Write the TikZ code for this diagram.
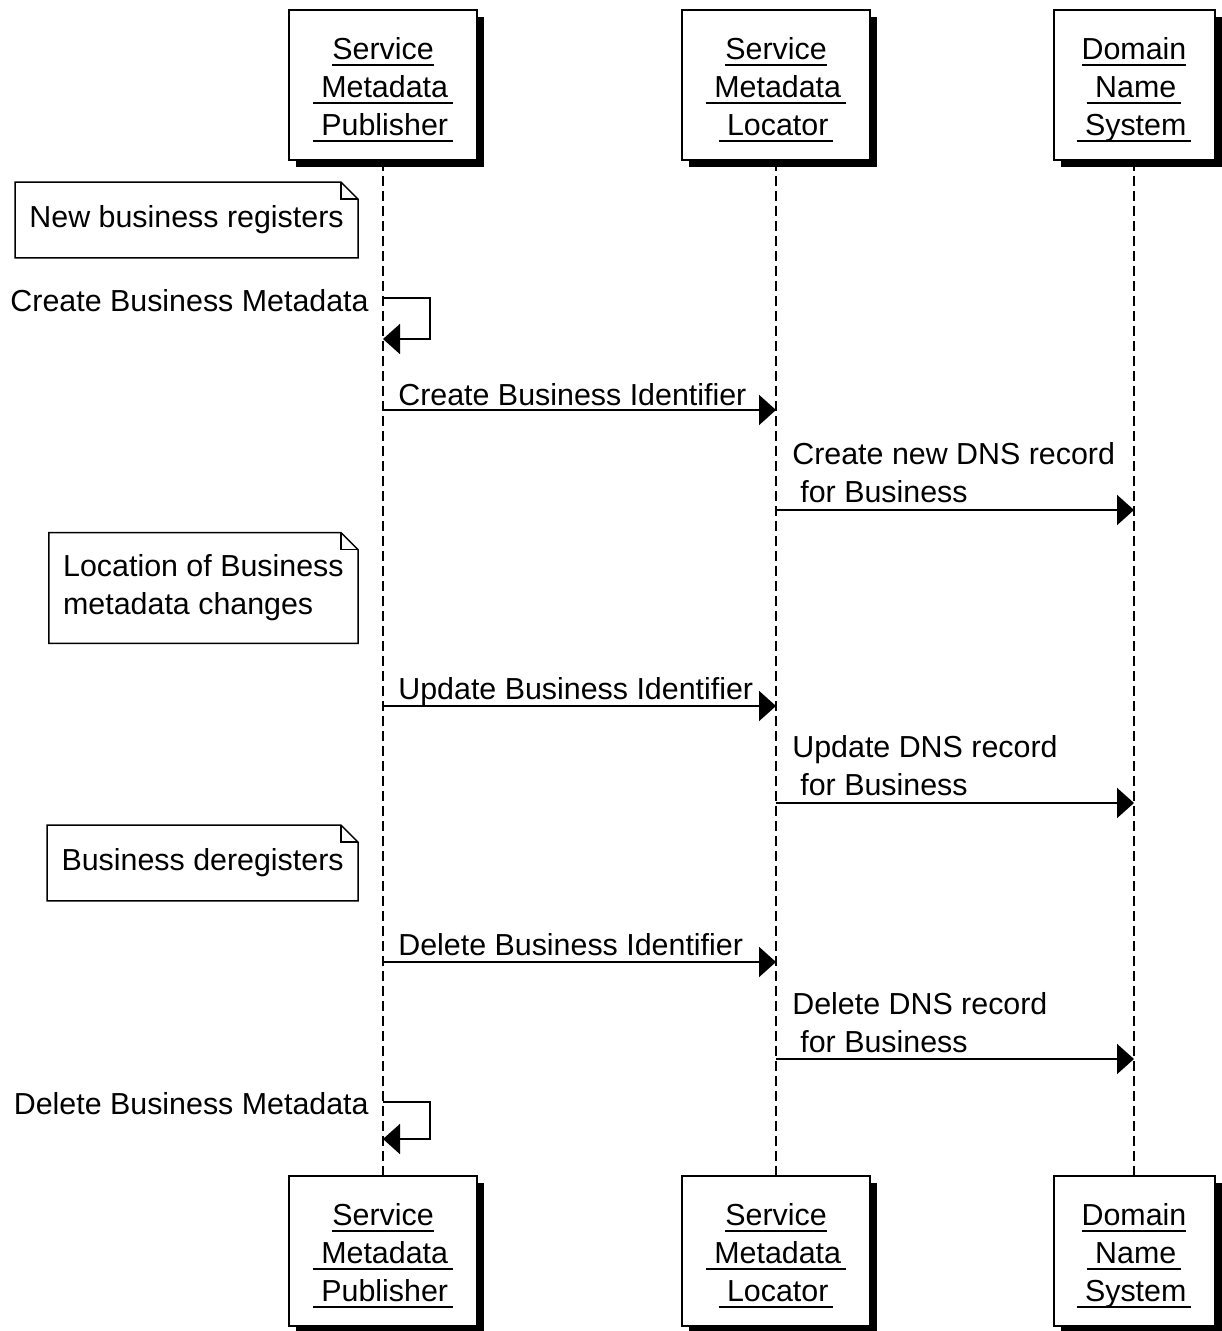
\documentclass[tikz,border=0pt]{standalone}
\usepackage{fontspec}
\setmainfont{Liberation Sans}
\usetikzlibrary{arrows.meta,shadows}

\newsavebox{\ulbox}
\newcommand{\ul}[1]{\sbox{\ulbox}{#1}\rlap{\rule[-4pt]{\wd\ulbox}{1.1pt}}\usebox{\ulbox}}
\newcommand{\notebox}[1]{%
  \draw[line width=0.03cm] (#1.south west) -- (#1.north west) -- ([xshift=-0.34cm]#1.north east)
    -- ([yshift=-0.34cm]#1.north east) -- (#1.south east) -- cycle;
  \draw[line width=0.03cm] ([xshift=-0.34cm]#1.north east) |- ([yshift=-0.34cm]#1.north east);}

\tikzset{
  actor/.style={draw, line width=0.04cm, fill=white, align=center, minimum width=3.76cm, minimum height=3cm,
    drop shadow={shadow xshift=0.14cm, shadow yshift=-0.14cm, fill=black, opacity=1}},
  note/.style={align=left, inner xsep=0.28cm, inner ysep=0pt, minimum height=1.5cm, anchor=east},
  life/.style={line width=0.04cm, dash pattern=on 0.2cm off 0.1cm},
  msg/.style={line width=0.04cm, -{Triangle[length=0.34cm,width=0.6cm]}},
  lbl/.style={inner sep=0pt}
}

\begin{document}
\begin{tikzpicture}[x=0.02cm, y=-0.02cm, every node/.style={font=\fontsize{17.3}{21.6}\selectfont}]

\useasboundingbox (0,0) rectangle (1221,1331);

% lifeline heads
\node[actor] (smp) at (383,85) {\rule{0pt}{18pt}\ul{Service}\\\ul{\ Metadata\,}\\\ul{\ Publisher\,}};
\node[actor] (sml) at (776,85) {\rule{0pt}{18pt}\ul{Service}\\\ul{\ Metadata\,}\\\ul{\ Locator\,}};
\node[actor, minimum width=3.22cm] (dns) at (1134,85) {\rule{0pt}{18pt}\ul{Domain}\\\ul{\ Name\,}\\\ul{\ System\,}};

\node[actor] (smpb) at (383,1251) {\rule{0pt}{18pt}\ul{Service}\\\ul{\ Metadata\,}\\\ul{\ Publisher\,}};
\node[actor] (smlb) at (776,1251) {\rule{0pt}{18pt}\ul{Service}\\\ul{\ Metadata\,}\\\ul{\ Locator\,}};
\node[actor, minimum width=3.22cm] (dnsb) at (1134,1251) {\rule{0pt}{18pt}\ul{Domain}\\\ul{\ Name\,}\\\ul{\ System\,}};

\draw[life] (smp.south) -- (smpb.north);
\draw[life] (sml.south) -- (smlb.north);
\draw[life] (dns.south) -- (dnsb.north);

% notes
\node[note] (n1) at (358,220) {New business registers};
\notebox{n1}
\node[note, minimum height=2.2cm] (n2) at (358,588) {Location of Business\\metadata changes};
\notebox{n2}
\node[note] (n3) at (358,863) {Business deregisters};
\notebox{n3}

% message rows
\coordinate (r0) at (0,298);
\coordinate (r0b) at (0,339);
\coordinate (r1) at (0,410);
\coordinate (r2) at (0,510);
\coordinate (r3) at (0,706);
\coordinate (r4) at (0,803);
\coordinate (r5) at (0,962);
\coordinate (r6) at (0,1059);
\coordinate (r7) at (0,1102);
\coordinate (r7b) at (0,1139);

% messages
\node[lbl, anchor=base east] (t0) at (369,311) {Create Business Metadata};
\draw[msg] (smp |- r0) -- ++(47,0) |- (smp |- r0b);

\node[lbl, anchor=base west] (t1) at (398,405) {Create Business Identifier};
\draw[msg] (smp |- r1) -- (sml |- r1);

\node[lbl, anchor=south west, align=left] (t2) at (792,503) {Create new DNS record\\\hspace{0.16cm}for Business};
\draw[msg] (sml |- r2) -- (dns |- r2);

\node[lbl, anchor=base west] (t3) at (398,699) {Update Business Identifier};
\draw[msg] (smp |- r3) -- (sml |- r3);

\node[lbl, anchor=south west, align=left] (t4) at (792,796) {Update DNS record\\\hspace{0.16cm}for Business};
\draw[msg] (sml |- r4) -- (dns |- r4);

\node[lbl, anchor=base west] (t5) at (398,955) {Delete Business Identifier};
\draw[msg] (smp |- r5) -- (sml |- r5);

\node[lbl, anchor=south west, align=left] (t6) at (792,1053) {Delete DNS record\\\hspace{0.16cm}for Business};
\draw[msg] (sml |- r6) -- (dns |- r6);

\node[lbl, anchor=base east] (t7) at (369,1114) {Delete Business Metadata};
\draw[msg] (smp |- r7) -- ++(47,0) |- (smp |- r7b);

\end{tikzpicture}
\end{document}
